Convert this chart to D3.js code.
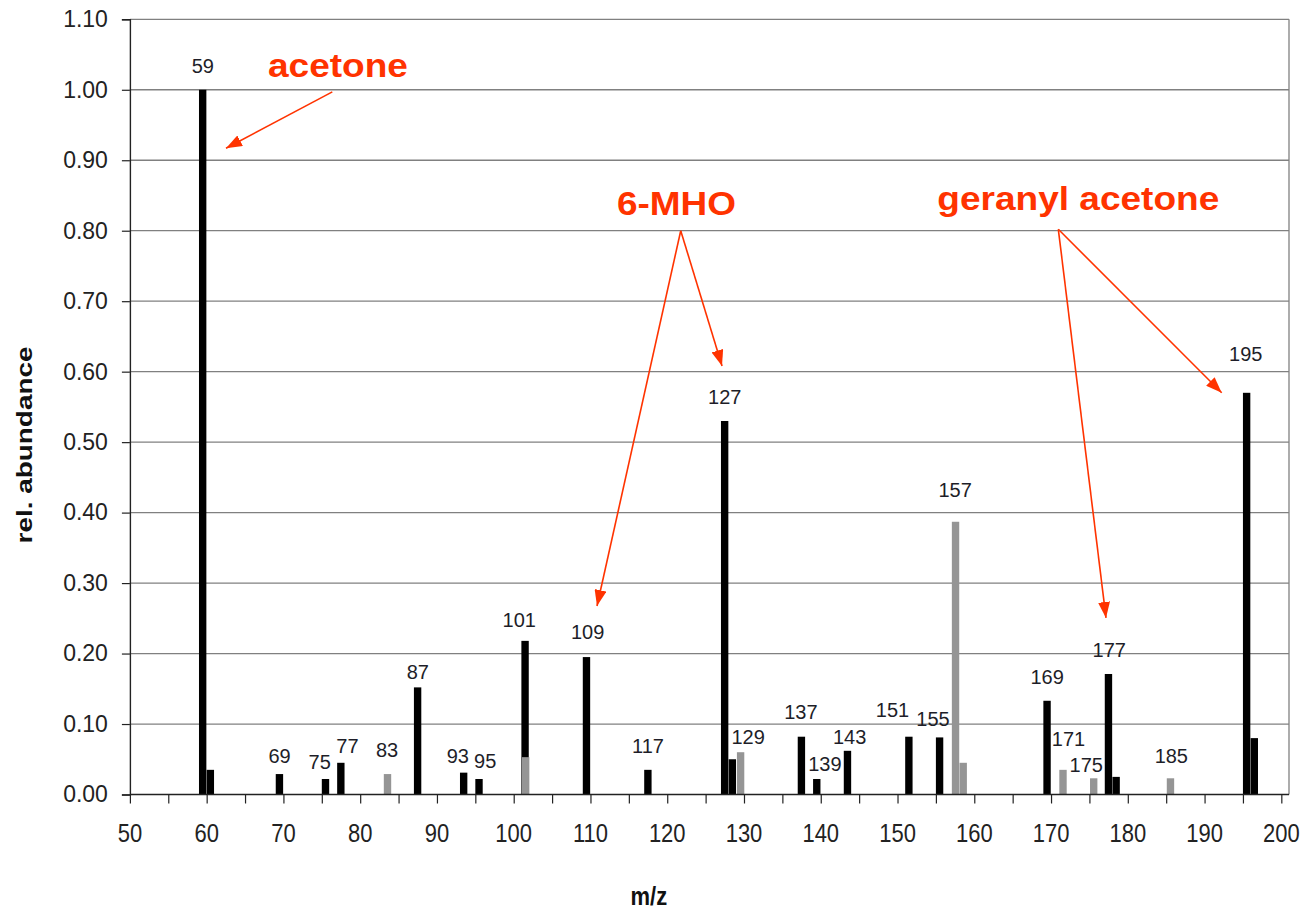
<!DOCTYPE html>
<html><head><meta charset="utf-8">
<script src="https://cdn.jsdelivr.net/npm/d3@7"></script>
<style>
html,body{margin:0;padding:0;background:#fff;}
svg{display:block;font-family:"Liberation Sans",Arial,sans-serif;}
</style></head>
<body><svg id="chart" width="1310" height="910"></svg>
<script>
// ---- data ----
const mzBlack  = [59, 60, 69, 75, 77, 87, 93, 95, 101, 109, 117, 127, 128, 137, 139, 143, 151, 155, 169, 177, 178, 195, 196];
const absBlack = [1.00, 0.035, 0.029, 0.022, 0.045, 0.152, 0.031, 0.022, 0.218, 0.195, 0.035, 0.530, 0.050, 0.082, 0.022, 0.062, 0.082, 0.081, 0.133, 0.171, 0.025, 0.570, 0.080];
const mzGray   = [83, 101, 129, 157, 158, 171, 175, 185];
const absGray  = [0.029, 0.053, 0.060, 0.387, 0.045, 0.035, 0.023, 0.023];
const labelledPeaks = [59, 69, 75, 77, 83, 87, 93, 95, 101, 109, 117, 127, 129, 137, 139, 143, 151, 155, 157, 169, 171, 175, 177, 185, 195];
const yTicks = [0, 0.1, 0.2, 0.3, 0.4, 0.5, 0.6, 0.7, 0.8, 0.9, 1.0, 1.1];
const xLabelTicks = [50, 60, 70, 80, 90, 100, 110, 120, 130, 140, 150, 160, 170, 180, 190, 200];
const compounds = ["acetone", "6-MHO", "geranyl acetone"];
// annotation anchors in data units (m/z, rel. abundance)
const compoundLabelAt = [[77.1, 1.018], [121.2, 0.822], [173.55, 0.829]];
const arrowFrom = [[76.37, 0.997], [121.76, 0.800], [170.95, 0.802]];
const arrowTo   = [[[62.52, 0.917]], [[110.85, 0.2675], [127.14, 0.608]], [[177.16, 0.2505], [192.23, 0.570]]];

// ---- layout (label nudges in px, not data) ----
const labelNudge = {59:[0,-4.5],69:[0,0.7],75:[-6,2],77:[6.5,2],83:[0,-4.7],87:[0,3.3],93:[-6,2],95:[6,1],
  101:[-6,-2],109:[1,-6],117:[0,-4.7],127:[0,-5],129:[8,4],137:[-0.7,-5.4],139:[8,4.4],143:[2,5.6],
  151:[-16.5,-8],155:[-6.7,1],157:[0,-13],169:[0,-4.7],171:[6,-12],175:[-7,5.4],177:[0.6,-5.3],185:[1.3,-3.6],195:[-1,-20]};
const compoundTextLen = [140, 119, 282];

const svg = d3.select("#chart");
const x = d3.scaleLinear().domain([50, 201]).range([129.9, 1289.0]);
const y = d3.scaleLinear().domain([0, 1.1]).range([794.5, 19.3]);
const red = "#ff3300";

// gridlines
svg.append("g").selectAll("line").data(yTicks.filter(d => d > 0)).join("line")
  .attr("x1", x(50)).attr("x2", x(201)).attr("y1", d => y(d)).attr("y2", d => y(d))
  .attr("stroke", "#808080").attr("stroke-width", 1.3);
// right border
svg.append("line").attr("x1", x(201)).attr("x2", x(201)).attr("y1", y(1.1)).attr("y2", y(0))
  .attr("stroke", "#808080").attr("stroke-width", 1.3);

// bars
const bw = x(51) - x(50) - 0.3;
const blackData = mzBlack.map((m, i) => ({m, v: absBlack[i]}));
const grayData = mzGray.map((m, i) => ({m, v: absGray[i]}));
svg.append("g").selectAll("rect").data(blackData).join("rect")
  .attr("x", d => x(d.m)).attr("width", bw)
  .attr("y", d => y(d.v)).attr("height", d => y(0) - y(d.v)).attr("fill", "#000");
svg.append("g").selectAll("rect").data(grayData).join("rect")
  .attr("x", d => x(d.m) + 0.6).attr("width", bw)
  .attr("y", d => y(d.v)).attr("height", d => y(0) - y(d.v)).attr("fill", "#959595");

// y axis
const yAxis = d3.axisLeft(y).tickValues(yTicks).tickFormat(d3.format(".2f")).tickSize(8).tickPadding(14);
const gy = svg.append("g").attr("transform", `translate(${x(50)},0)`).call(yAxis);
gy.select(".domain").attr("stroke", "#222").attr("stroke-width", 1.4);
gy.selectAll(".tick line").attr("stroke", "#222").attr("stroke-width", 1.2);
gy.selectAll(".tick text").attr("font-size", 23).attr("fill", "#222").attr("font-family", "Liberation Sans, Arial, sans-serif");

// x axis
const xAxis = d3.axisBottom(x).tickValues(d3.range(50, 201, 5)).tickFormat("").tickSize(9).tickSizeOuter(0);
const gx = svg.append("g").attr("transform", `translate(0,${y(0)})`).call(xAxis);
gx.select(".domain").attr("stroke", "#222").attr("stroke-width", 1.4).attr("d", `M${x(50)},0H${x(201)}`);
gx.selectAll(".tick line").attr("stroke", "#222").attr("stroke-width", 1.2);
svg.append("g").selectAll("text").data(xLabelTicks).join("text")
  .attr("transform", d => `translate(${x(d)},${y(0) + 47}) scale(1,1.2)`)
  .attr("text-anchor", "middle").attr("font-size", 22).attr("fill", "#222").text(d => d);

// axis titles
svg.append("text").attr("transform", `translate(32,445) rotate(-90)`)
  .attr("text-anchor", "middle").attr("font-size", 22).attr("font-weight", "bold").attr("fill", "#111")
  .attr("textLength", 197).attr("lengthAdjust", "spacingAndGlyphs").text("rel. abundance");
svg.append("text").attr("transform", `translate(${x(117.6)},905) scale(1,1.15)`)
  .attr("text-anchor", "middle").attr("font-size", 22).attr("font-weight", "bold").attr("fill", "#111").text("m/z");

// peak labels
const valueOf = m => {
  const i = mzBlack.indexOf(m), j = mzGray.indexOf(m);
  return Math.max(i >= 0 ? absBlack[i] : 0, j >= 0 ? absGray[j] : 0);
};
svg.append("g").selectAll("text").data(labelledPeaks).join("text")
  .attr("x", m => x(m + 0.5) + (labelNudge[m] || [0,0])[0])
  .attr("y", m => y(valueOf(m)) - 12 + (labelNudge[m] || [0,0])[1])
  .attr("text-anchor", "middle").attr("font-size", 20).attr("fill", "#1e1e28").text(m => m);

// annotations
const defs = svg.append("defs");
defs.append("marker").attr("id", "ah").attr("markerUnits", "userSpaceOnUse")
  .attr("viewBox", "0 0 16 12").attr("refX", 16).attr("refY", 6)
  .attr("markerWidth", 16).attr("markerHeight", 12).attr("orient", "auto")
  .append("path").attr("d", "M0,0L16,6L0,12Z").attr("fill", red);

compounds.forEach((c, i) => {
  svg.append("text").attr("x", x(compoundLabelAt[i][0])).attr("y", y(compoundLabelAt[i][1]))
    .attr("text-anchor", "middle").attr("font-size", 33).attr("font-weight", "bold").attr("fill", red)
    .attr("textLength", compoundTextLen[i]).attr("lengthAdjust", "spacingAndGlyphs").text(c);
  arrowTo[i].forEach(t => {
    svg.append("line")
      .attr("x1", x(arrowFrom[i][0])).attr("y1", y(arrowFrom[i][1]))
      .attr("x2", x(t[0])).attr("y2", y(t[1]))
      .attr("stroke", red).attr("stroke-width", 1.6).attr("marker-end", "url(#ah)");
  });
});
</script></body></html>
